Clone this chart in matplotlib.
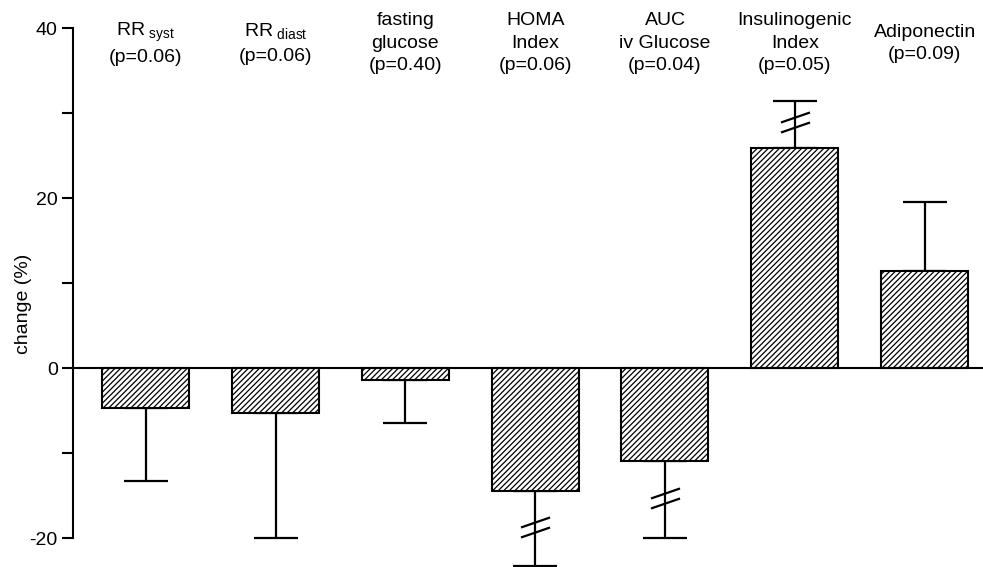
import matplotlib.pyplot as plt
from matplotlib.path import Path
import numpy as np

plt.rcParams['font.family'] = ['Liberation Sans', 'DejaVu Sans']
plt.rcParams['mathtext.fontset'] = 'custom'
plt.rcParams['mathtext.rm'] = 'Liberation Sans'
plt.rcParams['axes.unicode_minus'] = False
plt.rcParams['hatch.linewidth'] = 0.9

# ----------------------------------
# data
# ----------------------------------
names = [r"$\mathrm{RR}_{\ \mathrm{syst}}$",
         r"$\mathrm{RR}_{\ \mathrm{diast}}$",
         "fasting\nglucose",
         "HOMA\nIndex",
         "AUC\niv Glucose",
         "Insulinogenic\nIndex",
         "Adiponectin"]
p_values = ["0.06", "0.06", "0.40", "0.06", "0.04", "0.05", "0.09"]
change = [-4.7, -5.3, -1.4, -14.5, -10.9, 25.9, 11.4]
error = [8.6, 14.7, 5.1, 8.8, 9.1, 5.5, 8.1]
# where the error bar carries a break mark (None = no break)
break_at = [None, None, None, -18.7, -15.3, 28.9, None]

y_ticks = [-20, -10, 0, 10, 20, 30, 40]
y_ticklabels = ["-20", "", "0", "", "20", "", "40"]

# ----------------------------------
# plot
# ----------------------------------
fig = plt.figure(figsize=(9.83, 5.67), dpi=100)
ax = fig.add_axes([0.0743, 0.0511, 0.9257, 0.8995])

x = np.arange(len(change))
vals = np.array(change)
err = np.array(error)
lower = np.where(vals < 0, err, 0)
upper = np.where(vals > 0, err, 0)

ax.errorbar(x, vals, yerr=[lower, upper], fmt='none', ecolor='black',
            elinewidth=1.6, capsize=15.8, capthick=1.6, zorder=2, clip_on=False)
ax.bar(x, vals, width=0.67, facecolor='white', edgecolor='black',
       linewidth=1.5, hatch='//////', zorder=3)

# break marks on the long error bars
verts = [(-1, -0.69), (1, 0.0), (-1, 0.0), (1, 0.69)]
codes = [Path.MOVETO, Path.LINETO, Path.MOVETO, Path.LINETO]
brk = Path(verts, codes)
for xi, b in zip(x, break_at):
    if b is None:
        continue
    ax.plot([xi], [b], marker=brk, markersize=20.9, markerfacecolor='none',
            markeredgecolor='black', markeredgewidth=1.6, linestyle='none',
            zorder=4, clip_on=False)

ax.axhline(0, color='black', linewidth=1.5, zorder=4)

# category labels above the bars
for xi, n, p in zip(x, names, p_values):
    ax.text(xi, 38.2, f"{n}\n(p={p})", ha='center', va='center',
            multialignment='center', fontsize=14, linespacing=1.42,
            clip_on=False)

ax.set_xlim(-0.56, 6.45)
ax.set_ylim(-20, 40)
ax.set_xticks([])
ax.set_yticks(y_ticks)
ax.set_yticklabels(y_ticklabels, fontsize=14)
ax.tick_params(axis='y', length=8, width=1.5, pad=3)

for s in ['top', 'right', 'bottom']:
    ax.spines[s].set_visible(False)
ax.spines['left'].set_linewidth(1.5)

ax.set_ylabel("change (%)", fontsize=14)
ax.yaxis.set_label_coords(-0.045, 0.46)

plt.savefig("out.png", dpi=100)
